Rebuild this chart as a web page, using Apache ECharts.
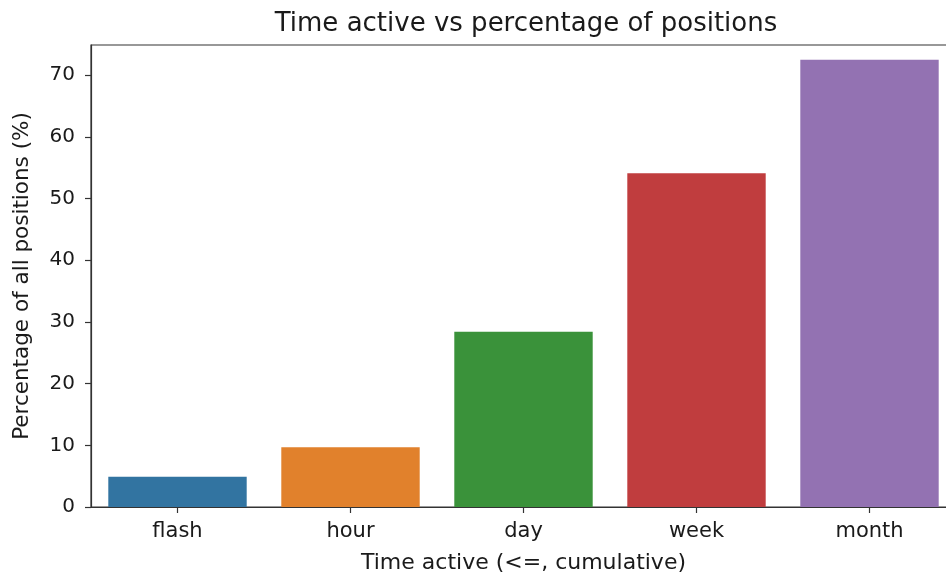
<!DOCTYPE html>
<html>
<head>
<meta charset="utf-8">
<script src="https://cdn.jsdelivr.net/npm/echarts@6/dist/echarts.min.js"></script>
<style>
  html, body { margin: 0; padding: 0; background: #fff; }
  #chart { width: 946px; height: 574px; }
</style>
</head>
<body>
<div id="chart"></div>
<script>
// categories and values
var categories = ['flash', 'hour', 'day', 'week', 'month'];
var percentValues = [4.9, 9.7, 28.4, 54.1, 72.5];
var barColors = ['#3274a1', '#e1812c', '#3a923a', '#c03d3e', '#9372b2'];
var yTicks = [0, 10, 20, 30, 40, 50, 60, 70];

var font = 'DejaVu Sans';

var myChart = echarts.init(document.getElementById('chart'), null, { renderer: 'canvas' });

var option = {
  animation: false,
  backgroundColor: '#fff',
  title: {
    text: 'Time active vs percentage of positions',
    left: 521,
    top: 6,
    textAlign: 'center',
    textStyle: { fontFamily: font, fontSize: 26, fontWeight: 'normal', color: '#1a1a1a' }
  },
  // plot area runs past the right edge of the picture (cropped)
  grid: {
    left: 91, top: 45, width: 865, bottom: 67,
    containLabel: false,
    outerBoundsMode: 'none',
    show: true, borderColor: '#333', borderWidth: 1.2, backgroundColor: 'transparent'
  },
  xAxis: {
    type: 'category',
    data: categories,
    name: 'Time active (<=, cumulative)',
    nameLocation: 'middle',
    nameGap: 45,
    nameTextStyle: { fontFamily: font, fontSize: 22, color: '#1a1a1a' },
    axisLine: { lineStyle: { color: '#333', width: 1.2 } },
    axisTick: { show: true, alignWithLabel: true, interval: 0, length: 6, lineStyle: { color: '#333', width: 1.2 } },
    axisLabel: { fontFamily: font, fontSize: 21, color: '#1a1a1a', margin: 14 }
  },
  yAxis: {
    type: 'value',
    min: 0,
    max: 74.9,
    interval: 10,
    name: 'Percentage of all positions (%)',
    nameLocation: 'middle',
    nameGap: 58,
    nameTextStyle: { fontFamily: font, fontSize: 21.5, color: '#1a1a1a' },
    splitLine: { show: false },
    axisLine: { show: true, lineStyle: { color: '#333', width: 1.2 } },
    axisTick: { show: true, length: 6, customValues: yTicks, lineStyle: { color: '#333', width: 1.2 } },
    axisLabel: { fontFamily: font, fontSize: 20, color: '#1a1a1a', margin: 16, customValues: yTicks }
  },
  series: [{
    type: 'bar',
    barCategoryGap: '20%',
    data: percentValues.map(function (v, i) {
      return { value: v, itemStyle: { color: barColors[i] } };
    })
  }]
};

myChart.setOption(option);
</script>
</body>
</html>
